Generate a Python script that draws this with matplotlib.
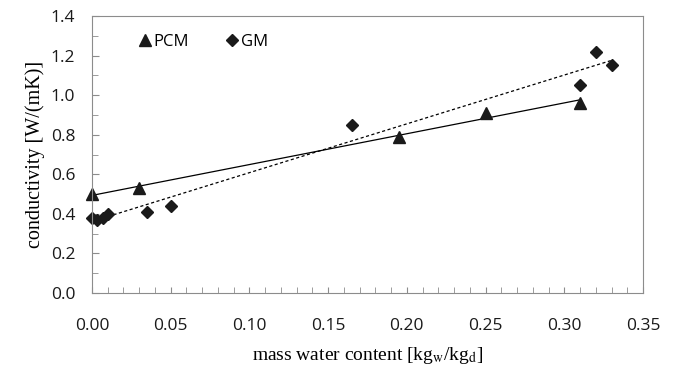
#!/usr/bin/env python3

import numpy as np
import matplotlib
matplotlib.use("Agg")
import matplotlib.pyplot as plt
from matplotlib.ticker import MultipleLocator

# values
pcm_x = [0.0, 0.03, 0.195, 0.25, 0.31]
pcm_y = [0.50, 0.53, 0.79, 0.91, 0.96]
gm_x = [0.0, 0.003, 0.007, 0.01, 0.035, 0.05, 0.165, 0.31, 0.32, 0.33]
gm_y = [0.38, 0.37, 0.38, 0.40, 0.41, 0.44, 0.85, 1.05, 1.22, 1.15]

plt.rcParams['mathtext.fontset'] = 'stix'

fig = plt.figure(figsize=(6.75, 3.71), dpi=100)
ax = fig.add_axes([0.1363, 0.2102, 0.8163, 0.7467])

# linear trend lines (excel style)
p = np.polyfit(pcm_x, pcm_y, 1)
xs = np.array([min(pcm_x), max(pcm_x)])
ax.plot(xs, np.polyval(p, xs), color="black", lw=0.9)
g = np.polyfit(gm_x, gm_y, 1)
xs = np.array([min(gm_x), max(gm_x)])
ax.plot(xs, np.polyval(g, xs), color="black", lw=0.9, ls=(0, (2.5, 2)))

ax.plot(pcm_x, pcm_y, "^", color="#1a1a1a", ms=8, label="PCM", clip_on=False)
ax.plot(gm_x, gm_y, "D", color="#1a1a1a", ms=6, label="GM", clip_on=False)

ax.set_xlim(0, 0.35)
ax.set_ylim(0, 1.4)
ax.xaxis.set_major_locator(MultipleLocator(0.05))
ax.xaxis.set_minor_locator(MultipleLocator(0.01))
ax.yaxis.set_major_locator(MultipleLocator(0.2))
ax.yaxis.set_minor_locator(MultipleLocator(0.1))
ax.set_xticklabels([f"{v:.2f}" for v in ax.get_xticks()])
ax.set_yticklabels([f"{v:.1f}" for v in ax.get_yticks()])

for s in ax.spines.values():
    s.set_color("#8c8c8c")
ax.tick_params(which="both", direction="in", color="#8c8c8c",
               labelsize=12.5, labelcolor="#1a1a1a")
ax.tick_params(axis="x", which="both", length=4, pad=18)
ax.tick_params(axis="y", which="major", length=5, pad=12)
ax.tick_params(axis="y", which="minor", length=4)
for t in ax.get_xticklabels() + ax.get_yticklabels():
    t.set_family("Open Sans")

ax.set_xlabel(r"mass water content [kg$_\mathrm{w}$/kg$_\mathrm{d}$]",
              family="Liberation Serif", fontsize=14, labelpad=8)
ax.set_ylabel("conductivity [W/(mK)]", family="Liberation Serif",
              fontsize=14.5, labelpad=4)

ax.legend(loc="upper left", bbox_to_anchor=(0.06, 0.99), ncol=2,
          frameon=False, handlelength=0.6, handletextpad=0.2,
          columnspacing=2.3, prop={"family": "Open Sans", "size": 12})

fig.savefig("out.png", dpi=100)
plt.clf()
